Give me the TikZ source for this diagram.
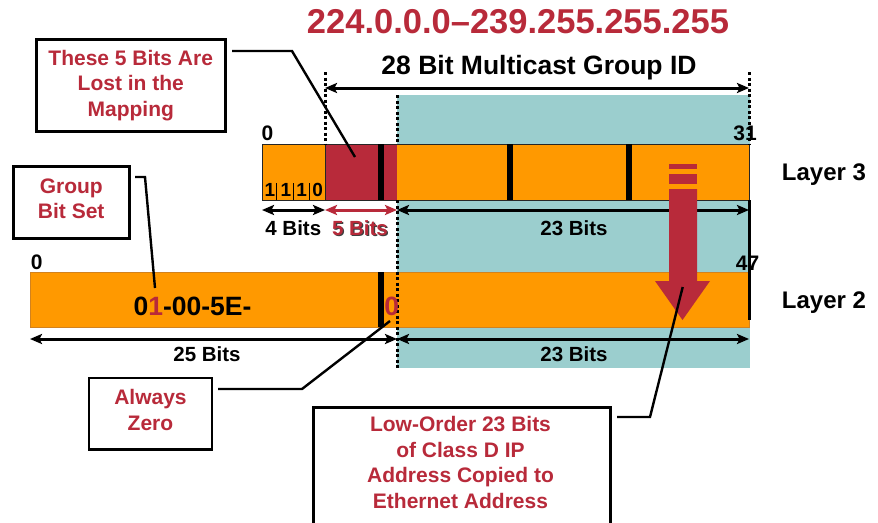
\documentclass[tikz,border=0pt]{standalone}
\usepackage{fontspec}
\setmainfont{Liberation Sans}
\usetikzlibrary{arrows.meta}
\definecolor{ired}{RGB}{184,42,58}
\definecolor{iorange}{RGB}{255,153,0}
\definecolor{iteal}{RGB}{155,206,206}
\definecolor{iorangedk}{RGB}{210,130,30}
\begin{document}
\begin{tikzpicture}[x=1pt,y=-1pt,
  lbl/.style={font=\bfseries\fontsize{20.5}{24}\selectfont, inner sep=0pt, anchor=base},
  numlbl/.style={font=\bfseries\fontsize{21}{24}\selectfont, inner sep=0pt, anchor=base},
  bitlbl/.style={font=\bfseries\fontsize{19}{22}\selectfont, inner sep=0pt, anchor=base},
  layerlbl/.style={font=\bfseries\fontsize{24}{28}\selectfont, inner sep=0pt, anchor=base west},
  macl/.style={font=\bfseries\fontsize{26.5}{30}\selectfont, inner sep=0pt, anchor=base},
  cbox/.style={draw=black, line width=2.5pt, fill=white, text=ired, align=center,
    font=\bfseries\fontsize{21}{25.5}\selectfont, inner sep=0pt},
  conn/.style={draw=black, line width=2.4pt},
  dim/.style={line width=3pt, {Stealth[length=12pt,width=10pt,inset=2.5pt]}-{Stealth[length=12pt,width=10pt,inset=2.5pt]}},
  dotline/.style={line width=3pt, dash pattern=on 3pt off 2.5pt},
  blackbar/.style={fill=black},
]
\useasboundingbox (0,0) rectangle (878,522);
\clip (0,0) rectangle (878,522);

% teal background
\fill[iteal] (397,95) rectangle (750,368);

% Layer 3 bar
\fill[iorange] (262,144) rectangle (749,200);
\fill[ired] (325,144) rectangle (397,200);
\draw[line width=1pt, draw=black!85] (262,144) rectangle (749,200);
\draw[line width=0.8pt, draw=black!85] (325,144) -- (325,200);
\fill[blackbar] (377.5,144) rectangle (383.5,200);
\fill[blackbar] (507,144) rectangle (513,200);
\fill[blackbar] (626,144) rectangle (632,200);
\foreach \x in {276.7,293.3,309.3}{\draw[line width=0.8pt] (\x,183) -- (\x,200);}

% Layer 2 bar
\draw[fill=iorange, draw=iorangedk, line width=1pt] (30,272) rectangle (749,327);
\fill[blackbar] (377.5,272) rectangle (384,327);

% dotted guide lines
\draw[dotline] (325,72) -- (325,144);
\draw[dotline] (749,72) -- (749,144);
\draw[dotline] (397,95) -- (397,144);
\draw[dotline] (397,200) -- (397,368);

% right vertical line
\draw[line width=3pt] (749.5,200) -- (749.5,320);

% dimension coordinates
\coordinate (t28l) at (325,88);
\coordinate (t28r) at (749,88);
\coordinate (u0) at (262,210);
\coordinate (u4) at (325,210);
\coordinate (u9) at (397,210);
\coordinate (u31) at (749,210);
\coordinate (d0) at (30,339);
\coordinate (d25) at (397,339);
\coordinate (d47) at (749,339);

\draw[dim] (t28l) -- (t28r);
\draw[dim] (u0) -- (u4);
\draw[dim, draw=ired, color=ired] (u4) -- (u9);
\draw[dim] (u9) -- (u31);
\draw[dim] (d0) -- (d25);
\draw[dim] (d25) -- (d47);

% big red arrow
\fill[ired] (669,164) rectangle (697,169);
\fill[ired] (669,174) rectangle (697,184);
\fill[ired] (669,189) -- (697,189) -- (697,281) -- (710,281) -- (682.5,320) -- (655,281) -- (669,281) -- cycle;

% labels
\node[font=\bfseries\fontsize{34.5}{40}\selectfont, text=ired, inner sep=0pt, anchor=base] (title) at (518,33) {224.0.0.0–239.255.255.255};
\node[font=\bfseries\fontsize{26.5}{30}\selectfont, inner sep=0pt, anchor=base] (gid) at (539,74) {28 Bit Multicast Group ID};
\node[numlbl] (z3) at (267.5,140) {0};
\node[numlbl] (n31) at (745,140) {31};
\node[numlbl] (z2) at (36.7,269.3) {0};
\node[numlbl] (n47) at (747.5,270) {47};
\node[layerlbl] (l3) at (781.7,180.7) {Layer 3};
\node[layerlbl] (l2) at (781.7,308.3) {Layer 2};
\node[bitlbl] (b1) at (270,196.7) {1};
\node[bitlbl] (b2) at (286,196.7) {1};
\node[bitlbl] (b3) at (301.7,196.7) {1};
\node[bitlbl] (b4) at (317.7,196.7) {0};
\node[lbl] (w4) at (293.3,235) {4 Bits};
\node[lbl, text=ired] (w5) at (360,235) {\makebox[0pt][l]{\hspace{1.2pt}\raisebox{-1.2pt}{\textcolor{black!75}{5 Bits}}}5 Bits};
\node[lbl] (w23a) at (574,235) {23 Bits};
\node[lbl] (w25) at (207,361.5) {25 Bits};
\node[lbl] (w23b) at (574,361.5) {23 Bits};
\node[macl] (mac) at (192.5,315) {0\textcolor{ired}{1}-00-5E-};
\node[macl, text=ired] (zero) at (391.7,315) {0};

% callouts
\node[cbox, minimum width=189pt, minimum height=92pt, anchor=north west] (lost) at (35,38) {These 5 Bits Are\\Lost in the\\Mapping};
\node[cbox, minimum width=116pt, minimum height=72pt, anchor=north west] (gbit) at (12,165) {Group\\Bit Set\strut};
\node[cbox, minimum width=123pt, minimum height=71.5pt, anchor=north west] (azero) at (87.7,376.7) {Always\\Zero\strut};
\node[cbox, minimum width=297pt, minimum height=140pt, anchor=north west] (lowbox) at (312,406) {};
\node[font=\bfseries\fontsize{21}{25.5}\selectfont, text=ired, align=center, inner sep=0pt, anchor=base] (lowtxt) at (460.5,508) {Low-Order 23 Bits\\of Class D IP\\Address Copied to\\Ethernet Address};

\coordinate (lost1) at (232,51);
\coordinate (lost2) at (292,51);
\coordinate (lost3) at (355,157);
\draw[conn] (lost1) -- (lost2) -- (lost3);
\coordinate (gb1) at (135,177);
\coordinate (gb2) at (145,177);
\coordinate (gb3) at (155,288);
\draw[conn] (gb1) -- (gb2) -- (gb3);
\coordinate (az1) at (218,389);
\coordinate (az2) at (302,389);
\coordinate (az3) at (390,321);
\draw[conn] (az1) -- (az2) -- (az3);
\coordinate (lo1) at (617,417);
\coordinate (lo2) at (650,417);
\coordinate (lo3) at (682.7,287);
\draw[conn] (lo1) -- (lo2) -- (lo3);
\end{tikzpicture}
\end{document}
